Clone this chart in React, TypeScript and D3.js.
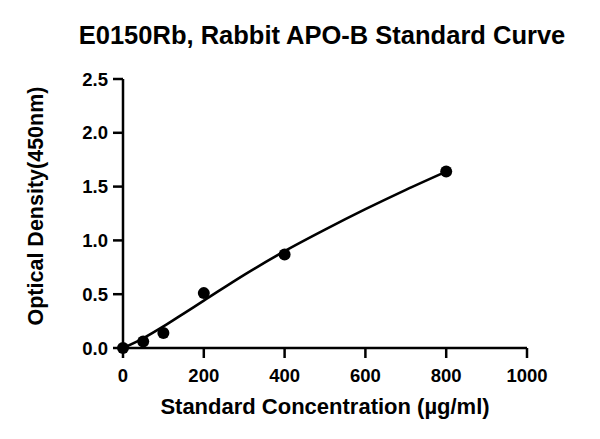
import React from "react";
import * as d3 from "d3";

// Standard concentrations (µg/ml) and measured OD at 450nm
const concentrations = [0, 50, 100, 200, 400, 800];
const densities = [0, 0.06, 0.14, 0.51, 0.87, 1.64];

// Fitted standard curve, sampled along the concentration range
const curveX = [0, 50, 100, 150, 200, 300, 400, 500, 600, 700, 800];
const curveY = [0, 0.09, 0.2, 0.32, 0.44, 0.68, 0.9, 1.1, 1.29, 1.47, 1.64];

const xTicks = [0, 200, 400, 600, 800, 1000];
const yTicks = [0, 0.5, 1.0, 1.5, 2.0, 2.5];

const title = "E0150Rb, Rabbit APO-B Standard Curve";
const xLabel = "Standard Concentration (µg/ml)";
const yLabel = "Optical Density(450nm)";

export default function App() {
  const width = 600,
    height = 439;
  const left = 123,
    right = 527,
    top = 79,
    bottom = 348;
  const tickLen = 10;

  const x = d3.scaleLinear().domain([0, 1000]).range([left, right]);
  const y = d3.scaleLinear().domain([0, 2.5]).range([bottom, top]);

  const line = d3
    .line<number>()
    .x((d) => x(d))
    .y((d, i) => y(curveY[i]))
    .curve(d3.curveMonotoneX);

  const font = "Arial, 'Liberation Sans', sans-serif";

  return (
    <svg
      width={width}
      height={height}
      style={{ position: "absolute", left: 0, top: 0, background: "#fff" }}
      fontFamily={font}
    >
      <text x={322} y={44} textAnchor="middle" fontSize={25.5} fontWeight="bold">
        {title}
      </text>

      {/* fitted curve */}
      <path d={line(curveX) || ""} fill="none" stroke="#000" strokeWidth={2.6} />

      {/* y axis */}
      <line x1={left} x2={left} y1={top} y2={bottom + 1} stroke="#000" strokeWidth={2.5} />
      {yTicks.map((t) => (
        <g key={t}>
          <line x1={left - tickLen} x2={left} y1={y(t)} y2={y(t)} stroke="#000" strokeWidth={2.5} />
          <text
            x={left - 15}
            y={y(t)}
            dy="0.36em"
            textAnchor="end"
            fontSize={18.5}
            fontWeight="bold"
          >
            {t.toFixed(1)}
          </text>
        </g>
      ))}

      {/* x axis */}
      <line x1={left - 1} x2={right} y1={bottom} y2={bottom} stroke="#000" strokeWidth={2.5} />
      {xTicks.map((t) => (
        <g key={t}>
          <line
            x1={x(t)}
            x2={x(t)}
            y1={bottom}
            y2={bottom + tickLen}
            stroke="#000"
            strokeWidth={2.5}
          />
          <text x={x(t)} y={382} textAnchor="middle" fontSize={18.5} fontWeight="bold">
            {t}
          </text>
        </g>
      ))}

      {/* data points */}
      {concentrations.map((c, i) => (
        <circle key={c} cx={x(c)} cy={y(densities[i])} r={6} fill="#000" />
      ))}

      <text x={325} y={414} textAnchor="middle" fontSize={22} fontWeight="bold">
        {xLabel}
      </text>
      <text
        transform={`translate(43, 206) rotate(-90)`}
        textAnchor="middle"
        fontSize={21.5}
        fontWeight="bold"
      >
        {yLabel}
      </text>
    </svg>
  );
}
